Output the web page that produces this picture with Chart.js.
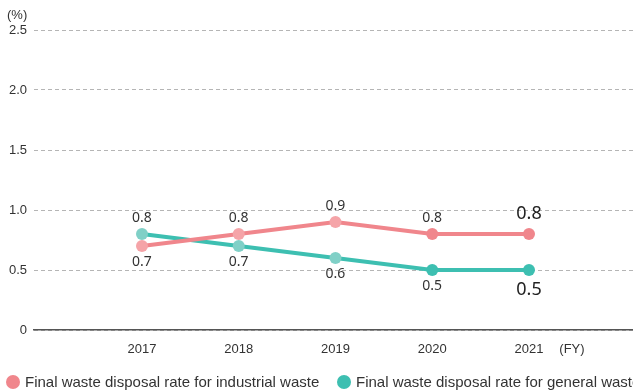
<!DOCTYPE html>
<html lang="en">
<head>
  <meta charset="UTF-8">
  <title>Final waste disposal rate</title>
  <style>
    body { margin: 0; background: #fff; font-family: "Liberation Sans", Arial, sans-serif; }
    #wrap { position: relative; width: 633px; height: 391px; overflow: hidden; }
    #unit { position: absolute; left: 7px; top: 7px; font-size: 13px; color: #333; }
    .legend { position: absolute; top: 373px; white-space: nowrap; font-size: 15px; color: #333; }
    .legend .dot { display: inline-block; width: 14px; height: 14px; border-radius: 50%; vertical-align: -2px; margin-right: 5px; }
  </style>
</head>
<body>
  <div id="wrap">
    <canvas id="chart" width="633" height="391"></canvas>
    <div id="unit">(%)</div>
    <div class="legend" style="left: 6px;"><span class="dot" style="background:#F0868C"></span>Final waste disposal rate for industrial waste</div>
    <div class="legend" style="left: 337px;"><span class="dot" style="background:#3DBFB1"></span>Final waste disposal rate for general waste</div>
  </div>

  <script src="https://cdn.jsdelivr.net/npm/chart.js"></script>
  <script>
    const years = [2017, 2018, 2019, 2020, 2021];
    const industrialWaste = [0.7, 0.8, 0.9, 0.8, 0.8];
    const generalWaste = [0.8, 0.7, 0.6, 0.5, 0.5];
    const yTicks = [0, 0.5, 1.0, 1.5, 2.0, 2.5];

    const pink = '#F0868C', pinkLight = '#F5A4A8';
    const teal = '#3DBFB1', tealLight = '#80D0C7';

    // older years get the lighter point colour
    const pointColors = (dark, light) => years.map(y => y < 2020 ? light : dark);

    const valueLabels = {
      id: 'valueLabels',
      afterDatasetsDraw(chart) {
        const ctx = chart.ctx;
        const a = chart.getDatasetMeta(0).data;
        const b = chart.getDatasetMeta(1).data;
        ctx.save();
        ctx.textAlign = 'center';
        ctx.textBaseline = 'middle';
        years.forEach((yr, i) => {
          const last = i === years.length - 1;
          ctx.font = last ? '18px "Noto Sans", sans-serif' : '14px "Noto Sans", sans-serif';
          ctx.fillStyle = last ? '#222' : '#333';
          const pairs = [[industrialWaste[i], a[i]], [generalWaste[i], b[i]]];
          const hi = industrialWaste[i] >= generalWaste[i] ? 0 : 1;
          pairs.forEach(([v, pt], k) => {
            const above = k === hi;
            const off = last ? 20 : 16;
            ctx.fillText(v.toFixed(1), pt.x, above ? pt.y - off : pt.y + off);
          });
        });
        ctx.restore();
      }
    };

    new Chart(document.getElementById('chart'), {
      type: 'line',
      data: {
        datasets: [
          {
            label: 'Final waste disposal rate for industrial waste',
            data: years.map((y, i) => ({ x: y, y: industrialWaste[i] })),
            borderColor: pink,
            borderWidth: 4,
            pointRadius: 6,
            pointBorderWidth: 0,
            pointBackgroundColor: pointColors(pink, pinkLight),
            tension: 0
          },
          {
            label: 'Final waste disposal rate for general waste',
            data: years.map((y, i) => ({ x: y, y: generalWaste[i] })),
            borderColor: teal,
            borderWidth: 4,
            pointRadius: 6,
            pointBorderWidth: 0,
            pointBackgroundColor: pointColors(teal, tealLight),
            tension: 0
          }
        ]
      },
      options: {
        responsive: false,
        animation: false,
        layout: { autoPadding: false, padding: { top: 30, right: 0, left: 0, bottom: 0 } },
        plugins: { legend: { display: false }, tooltip: { enabled: false } },
        scales: {
          x: {
            type: 'linear',
            min: 2015.884,
            max: 2022.075,
            afterBuildTicks: s => { s.ticks = years.map(v => ({ value: v })).concat([{ value: 2021.444 }]); },
            afterFit: s => { s.height = 61; s.paddingLeft = 0; s.paddingRight = 0; },
            grid: { display: false },
            border: { display: true, color: '#555', width: 1.5 },
            ticks: {
              padding: 4,
              maxRotation: 0,
              autoSkip: false,
              color: '#333',
              font: { family: '"Liberation Sans", Arial, sans-serif', size: 13 },
              callback: v => Number.isInteger(v) ? String(v) : '(FY)'
            }
          },
          y: {
            min: 0,
            max: 2.5,
            afterBuildTicks: s => { s.ticks = yTicks.map(v => ({ value: v })); },
            afterFit: s => { s.width = 34; s.paddingTop = 0; s.paddingBottom = 0; },
            border: { display: false, dash: [4, 3] },
            grid: { color: '#b5b5b5', lineWidth: 1, drawTicks: false },
            ticks: {
              padding: 7,
              color: '#333',
              font: { family: '"Liberation Sans", Arial, sans-serif', size: 13 },
              callback: v => v === 0 ? '0' : v.toFixed(1)
            }
          }
        }
      },
      plugins: [valueLabels]
    });
  </script>
</body>
</html>
